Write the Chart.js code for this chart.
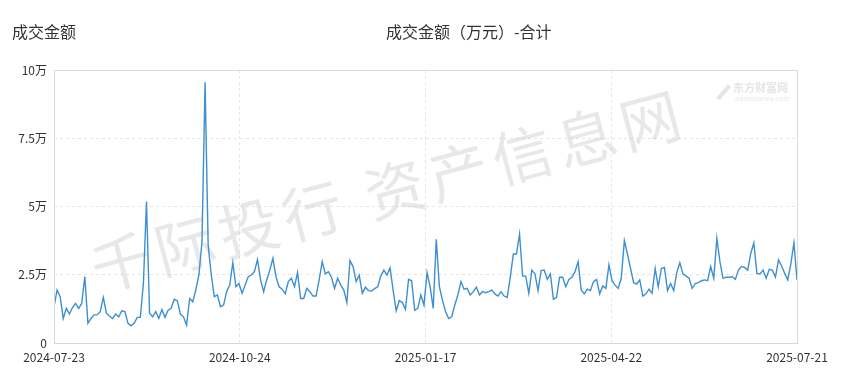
<!DOCTYPE html>
<html>
<head>
<meta charset="utf-8">
<script src="https://cdn.jsdelivr.net/npm/chart.js@4"></script>
<style>
    html, body { margin: 0; padding: 0; background: #fff; }
    #wrap { position: relative; width: 853px; height: 391px; }
    .title { position: absolute; top: 19px; line-height: 24px; font: 16px "Noto Sans CJK SC", sans-serif; color: #333; white-space: nowrap; }
</style>
</head>
<body>
<div id="wrap">
    <canvas id="chart" width="853" height="391"></canvas>
    <div class="title" style="left:12px;">成交金额</div>
    <div class="title" style="left:386px;">成交金额（万元）-合计</div>
</div>
<script>
// Data (values in 万)
const seriesName = '成交金额（万元）-合计';
const values = [
    1.33, 1.94, 1.70, 0.90, 1.27, 1.06, 1.30, 1.45, 1.27, 1.45,
    2.43, 0.72, 0.90, 1.03, 1.03, 1.15, 1.67, 1.09, 0.99, 0.90,
    1.06, 0.96, 1.18, 1.15, 0.72, 0.63, 0.72, 0.94, 0.94, 2.19,
    5.18, 1.09, 0.96, 1.15, 0.90, 1.23, 0.94, 1.20, 1.27, 1.60,
    1.55, 1.06, 0.96, 0.66, 1.63, 1.51, 1.94, 2.50,
    3.70, 9.55, 3.60, 2.50,
    1.70, 1.76, 1.33, 1.39, 1.88, 2.12, 2.94, 2.06, 2.18, 1.82,
    2.12, 2.43, 2.49, 2.61, 3.06, 2.31, 1.88, 2.31, 2.67, 3.10,
    2.43, 2.06, 1.97, 1.80, 2.25, 2.37, 2.06, 2.58, 1.63, 1.63,
    2.00, 1.88, 1.72, 1.72, 2.31, 2.98, 2.53, 2.61, 2.41, 2.00,
    2.37, 2.12, 1.94, 1.48, 3.02, 2.80,
    2.25, 2.49, 1.82, 2.04, 1.92, 1.90, 1.99, 2.06, 2.45, 2.67,
    2.49, 2.75, 1.94, 1.18, 1.55, 1.48, 1.23, 2.33, 2.28, 1.20,
    1.27, 1.76, 1.39, 2.58, 2.06, 1.27, 3.80, 2.06, 1.57, 1.15,
    0.90, 0.96, 1.39, 1.76, 2.25, 1.97, 2.00, 1.76, 1.88, 2.04,
    1.76, 1.88, 1.84, 1.88, 1.94, 1.80, 1.72, 1.88, 1.72,
    1.67, 2.41, 3.26, 3.26, 3.99, 2.45, 2.45, 1.82, 2.67, 2.53,
    1.92, 2.65, 2.67, 2.33, 2.53, 1.60, 1.67, 2.41, 2.41, 2.06,
    2.33, 2.41, 2.61, 2.98, 1.94, 1.80, 1.97, 1.92, 2.25, 2.33,
    1.80, 2.09, 2.00, 2.86, 2.28, 2.12, 2.00, 2.37, 3.75, 3.26,
    2.73, 2.21, 2.16, 2.31, 1.72, 1.80, 1.97, 1.82,
    2.73, 2.06, 2.73, 2.77, 1.92, 2.18, 1.92, 2.58, 2.94, 2.53,
    2.45, 2.37, 2.00, 2.18, 2.21, 2.28, 2.31, 2.28, 2.80, 2.37,
    3.83, 2.98, 2.37, 2.41, 2.41, 2.43, 2.33, 2.67, 2.80, 2.77,
    2.67, 3.28, 3.67, 2.55, 2.53, 2.67, 2.37, 2.70, 2.67, 2.41,
    3.04, 2.82, 2.55, 2.31, 2.90, 3.67, 2.31
];
const tickLabels = ['2024-07-23', '2024-10-24', '2025-01-17', '2025-04-22', '2025-07-21'];
const yTicks = [0, 2.5, 5, 7.5, 10];

const lastIndex = values.length - 1;
const tickPositions = tickLabels.map((_, i) => lastIndex * i / (tickLabels.length - 1));
const points = values.map((v, i) => ({ x: i, y: v }));

// Watermark + frame
const decorPlugin = {
    id: 'decor',
    beforeDatasetsDraw(chart) {
        const ctx = chart.ctx;
        ctx.save();
        ctx.translate(98, 292);
        ctx.rotate(-15 * Math.PI / 180);
        ctx.font = '60px "Noto Sans CJK SC", sans-serif';
        ctx.letterSpacing = '6px';
        ctx.fillStyle = 'rgba(190,190,190,0.36)';
        ctx.textBaseline = 'alphabetic';
        ctx.fillText('千际投行 资产信息网', 0, 0);
        ctx.restore();

        ctx.save();
        ctx.fillStyle = 'rgba(180,180,180,0.35)';
        ctx.font = 'bold 11px "Noto Sans CJK SC", sans-serif';
        ctx.fillText('东方财富网', 733, 92);
        ctx.font = '7px "DejaVu Sans", sans-serif';
        ctx.fillText('eastmoney.com', 735, 101);
        ctx.beginPath();
        ctx.moveTo(716, 98);
        ctx.lineTo(728, 84);
        ctx.lineTo(731, 87);
        ctx.lineTo(720, 100);
        ctx.closePath();
        ctx.fill();
        ctx.restore();
    },
    afterDraw(chart) {
        const a = chart.chartArea;
        const ctx = chart.ctx;
        ctx.save();
        ctx.strokeStyle = '#d9d9d9';
        ctx.lineWidth = 1;
        ctx.strokeRect(Math.round(a.left) + 0.5, Math.round(a.top) + 0.5,
            Math.round(a.right - a.left), Math.round(a.bottom - a.top));
        ctx.restore();
    }
};

new Chart(document.getElementById('chart'), {
    type: 'line',
    data: {
        datasets: [{
            label: seriesName,
            data: points,
            borderColor: '#3d8fd1',
            borderWidth: 1.4,
            pointRadius: 0,
            tension: 0,
            fill: false
        }]
    },
    options: {
        responsive: false,
        animation: false,
        layout: { padding: { left: 0, top: 70, right: 56, bottom: 0 } },
        plugins: {
            legend: { display: false },
            tooltip: { enabled: false }
        },
        scales: {
            x: {
                type: 'linear',
                min: 0,
                max: lastIndex,
                afterBuildTicks: (scale) => { scale.ticks = tickPositions.map(v => ({ value: v })); },
                afterFit: (scale) => { scale.height = 48; },
                ticks: {
                    autoSkip: false,
                    maxRotation: 0,
                    padding: 7,
                    color: '#333',
                    font: { size: 12, family: '"Noto Sans CJK SC", sans-serif' },
                    callback: (v, i) => tickLabels[i]
                },
                grid: {
                    color: '#e6e6e6',
                    drawTicks: false
                },
                border: { display: false, dash: [3, 3] }
            },
            y: {
                min: 0,
                max: 10,
                afterBuildTicks: (scale) => { scale.ticks = yTicks.map(v => ({ value: v })); },
                afterFit: (scale) => { scale.width = 54; },
                ticks: {
                    padding: 7,
                    color: '#333',
                    font: { size: 12, family: '"Noto Sans CJK SC", sans-serif' },
                    callback: (v) => v === 0 ? '0' : v + '万'
                },
                grid: {
                    color: '#e6e6e6',
                    drawTicks: false
                },
                border: { display: false, dash: [3, 3] }
            }
        }
    },
    plugins: [decorPlugin]
});
</script>
</body>
</html>
